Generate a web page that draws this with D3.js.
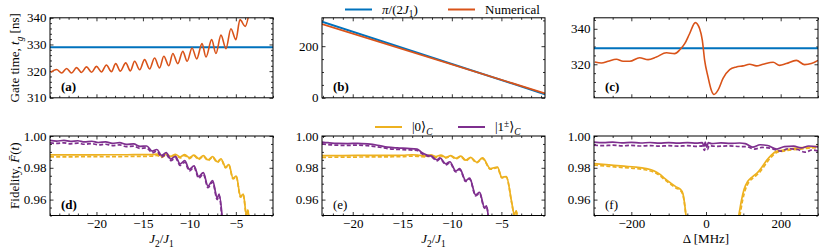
<!DOCTYPE html>
<html><head><meta charset="utf-8">
<script src="https://cdn.jsdelivr.net/npm/d3@7"></script>
<style>
body{margin:0;background:#fff}
svg{display:block}
</style>
</head><body><svg id="chart" width="830" height="249"></svg>
<script>
// ---------------- DATA ----------------
const piOver2J1 = 329;                       // analytic gate time (ns), panels (a),(c)
// (a) numerical gate time vs J2/J1
const numericalA = [[-24.93,319.5],[-24.29,320.6],[-23.75,319.3],[-23.21,321.0],[-22.68,319.3],[-22.14,321.3],[-21.61,319.5],[-21.07,321.6],[-20.53,319.6],[-20.0,321.8],[-19.46,319.7],[-18.93,322.3],[-18.39,319.8],[-17.93,322.8],[-17.43,320.0],[-16.85,323.1],[-16.35,320.1],[-15.89,323.7],[-15.35,320.5],[-14.82,324.3],[-14.28,320.8],[-13.75,324.9],[-13.21,321.2],[-12.75,325.6],[-12.21,322.0],[-11.78,326.6],[-11.25,322.8],[-10.71,327.4],[-10.24,323.7],[-9.71,328.7],[-9.21,324.6],[-8.64,330.3],[-8.21,325.3],[-7.60,331.8],[-7.14,326.6],[-6.60,333.5],[-6.06,328.4],[-5.53,335.9],[-4.99,331.8],[-4.56,339.3],[-3.99,336.8],[-3.56,342]];
// (b) gate time vs J2/J1
const analyticB = [[-23.1,295],[-0.6,14]];
const numericalB = [[-23.1,286],[-0.6,17]];
// (c) numerical gate time vs detuning
const numericalC = [[-298,321.3],[-280,320.7],[-262,321.7],[-240,322.8],[-222,321.7],[-204,321.7],[-178,323.7],[-155,322.6],[-133,324.1],[-106,326.5],[-84,326.0],[-70,328.2],[-57,331.6],[-44,337.2],[-28.6,343.5],[-17,340],[-9.8,333.5],[-3.6,322.2],[5.4,312.9],[14.3,305.4],[21.4,303],[32.2,305.4],[45.6,312],[63.4,317],[81.3,318.5],[99,319.1],[117,320],[135,319.1],[153,320],[180,321.1],[197,319.4],[215,320.4],[242,322.2],[264,319.8],[282,320.4],[300,322.2]];
// (d) fidelity vs J2/J1
const zeroSolidD = [[-25,0.9881],[-23,0.9881],[-21,0.9881],[-19,0.9882],[-17,0.9882],[-15,0.9883],[-14,0.9883],[-13.5,0.9886],[-13,0.9874],[-12.5,0.9886],[-12,0.9872],[-11.5,0.9885],[-11,0.9868],[-10.5,0.9883],[-10,0.9864],[-9.5,0.988],[-9,0.9858],[-8.5,0.9876],[-8,0.985],[-7.5,0.987],[-7,0.9838],[-6.6,0.9857],[-6.1,0.9805],[-5.75,0.982],[-5.3,0.9735],[-4.95,0.9748],[-4.5,0.962],[-4.2,0.9635],[-3.85,0.95],[-3.7,0.9535],[-3.55,0.946]];
const zeroDashD = [[-25,0.9869],[-23,0.9869],[-21,0.987],[-19,0.987],[-17,0.9871],[-15,0.9872],[-14,0.9873],[-13.5,0.9878],[-13,0.9866],[-12.5,0.9879],[-12,0.9865],[-11.5,0.9879],[-11,0.9862],[-10.5,0.9877],[-10,0.9858],[-9.5,0.9875],[-9,0.9853],[-8.5,0.9871],[-8,0.9845],[-7.5,0.9866],[-7,0.9834],[-6.6,0.9853],[-6.1,0.98],[-5.75,0.9816],[-5.3,0.973],[-4.95,0.9744],[-4.5,0.9615],[-4.2,0.963],[-3.85,0.9495],[-3.7,0.953],[-3.55,0.946]];
const oneSolidD = [[-25,0.9972],[-24.3,0.9968],[-23.5,0.9972],[-22.8,0.9966],[-22,0.997],[-21.3,0.9963],[-20.5,0.9967],[-19.8,0.9959],[-19,0.9963],[-18.3,0.9954],[-17.5,0.9958],[-16.8,0.9947],[-16,0.995],[-15.3,0.9935],[-14.6,0.9937],[-14,0.9905],[-13.5,0.9915],[-13,0.9878],[-12.5,0.9895],[-12,0.9855],[-11.5,0.9872],[-11,0.9825],[-10.5,0.9845],[-10,0.979],[-9.5,0.9812],[-9,0.9745],[-8.5,0.977],[-8,0.9685],[-7.5,0.972],[-7,0.961],[-6.8,0.9635],[-6.45,0.948]];
const oneDashD = [[-25,0.9957],[-24.3,0.9953],[-23.5,0.9957],[-22.8,0.9951],[-22,0.9955],[-21.3,0.9948],[-20.5,0.9952],[-19.8,0.9944],[-19,0.9948],[-18.3,0.994],[-17.5,0.9944],[-16.8,0.9933],[-16,0.9936],[-15.3,0.9922],[-14.6,0.9925],[-14,0.9895],[-13.5,0.9905],[-13,0.9868],[-12.5,0.9885],[-12,0.9845],[-11.5,0.9862],[-11,0.9815],[-10.5,0.9835],[-10,0.978],[-9.5,0.9802],[-9,0.9735],[-8.5,0.976],[-8,0.9675],[-7.5,0.971],[-7,0.96],[-6.8,0.9625],[-6.5,0.948]];
// (e) fidelity vs J2/J1
const zeroSolidE = [[-23.1,0.9876],[-21,0.9877],[-19,0.9878],[-17,0.9878],[-15,0.9879],[-14,0.9882],[-13.2,0.9878],[-12.6,0.9875],[-12.1,0.9882],[-11.6,0.9871],[-11.1,0.988],[-10.6,0.9866],[-10.1,0.9877],[-9.6,0.986],[-9.1,0.9874],[-8.6,0.9848],[-8.1,0.9866],[-7.5,0.9835],[-6.9,0.9862],[-6.1,0.9795],[-5.4,0.9805],[-4.95,0.974],[-4.5,0.9745],[-3.95,0.958],[-3.7,0.9505],[-3.5,0.953],[-3.35,0.946]];
const zeroDashE = [[-23.1,0.9866],[-21,0.9867],[-19,0.9868],[-17,0.9869],[-15,0.987],[-14,0.9874],[-13.2,0.9871],[-12.6,0.9869],[-12.1,0.9876],[-11.6,0.9866],[-11.1,0.9875],[-10.6,0.9862],[-10.1,0.9873],[-9.6,0.9856],[-9.1,0.987],[-8.6,0.9845],[-8.1,0.9862],[-7.5,0.9831],[-6.9,0.9858],[-6.1,0.9791],[-5.4,0.9801],[-4.95,0.9736],[-4.5,0.9741],[-3.95,0.9576],[-3.7,0.9502],[-3.5,0.9527],[-3.35,0.946]];
const oneSolidE = [[-23.1,0.9962],[-22.5,0.9958],[-21.5,0.9953],[-20.5,0.9952],[-19.5,0.9954],[-18.5,0.995],[-17.5,0.9942],[-16.5,0.993],[-15.5,0.9925],[-14.5,0.9922],[-13.5,0.9918],[-13,0.9895],[-12.5,0.988],[-12,0.9872],[-11.5,0.985],[-11.2,0.9862],[-10.6,0.9825],[-10.2,0.9838],[-9.6,0.978],[-9.2,0.9795],[-8.6,0.972],[-8.2,0.9735],[-7.6,0.963],[-7.2,0.9645],[-6.7,0.955],[-6.5,0.956],[-6.3,0.948]];
const oneDashE = [[-23.1,0.995],[-22.5,0.9946],[-21.5,0.9942],[-20.5,0.9941],[-19.5,0.9943],[-18.5,0.9939],[-17.5,0.9932],[-16.5,0.9921],[-15.5,0.9916],[-14.5,0.9913],[-13.5,0.9909],[-13,0.9888],[-12.5,0.9874],[-12,0.9866],[-11.5,0.9844],[-11.2,0.9856],[-10.6,0.9819],[-10.2,0.9832],[-9.6,0.9774],[-9.2,0.9789],[-8.6,0.9714],[-8.2,0.9729],[-7.6,0.9624],[-7.2,0.9639],[-6.7,0.9545],[-6.5,0.9555],[-6.3,0.948]];
// (f) fidelity vs detuning (MHz)
const zeroSolidFLeft = [[-300,0.9826],[-260,0.9818],[-220,0.981],[-190,0.9805],[-160,0.9795],[-140,0.9782],[-125,0.9762],[-110,0.9732],[-95,0.9705],[-80,0.968],[-70,0.9668],[-62,0.9638],[-56,0.955],[-52,0.946]];
const zeroSolidFRight = [[85,0.946],[90,0.953],[95,0.9595],[102,0.9665],[112,0.9715],[125,0.9745],[138,0.977],[150,0.9805],[162,0.9845],[175,0.988],[190,0.9905],[205,0.991],[225,0.9918],[250,0.9925],[275,0.993],[300,0.9935]];
const zeroDashFLeft = [[-300,0.9817],[-260,0.9809],[-220,0.9801],[-190,0.9796],[-160,0.9786],[-140,0.9773],[-125,0.9753],[-110,0.9724],[-95,0.9697],[-80,0.9672],[-70,0.966],[-62,0.963],[-56,0.9545],[-52,0.946]];
const zeroDashFRight = [[88,0.946],[93,0.953],[98,0.9595],[105,0.966],[115,0.971],[128,0.974],[141,0.9765],[153,0.98],[165,0.984],[178,0.9875],[193,0.99],[208,0.9905],[228,0.9912],[253,0.9918],[278,0.9924],[300,0.9928]];
const oneSolidF = [[-300,0.9962],[-275,0.9958],[-250,0.9961],[-225,0.9957],[-200,0.996],[-175,0.9956],[-150,0.9959],[-125,0.9955],[-100,0.9958],[-75,0.9955],[-50,0.9958],[-25,0.9955],[-10,0.9958],[-5,0.9935],[-2,0.9962],[2,0.993],[6,0.9958],[15,0.9952],[40,0.9957],[65,0.9953],[90,0.9956],[105,0.9952],[125,0.993],[145,0.9945],[165,0.994],[190,0.9918],[210,0.9933],[235,0.9936],[255,0.9925],[275,0.9937],[300,0.9932]];
const oneDashF = [[-300,0.9942],[-275,0.9939],[-250,0.9942],[-225,0.9938],[-200,0.9941],[-175,0.9937],[-150,0.994],[-125,0.9936],[-100,0.9939],[-75,0.9936],[-50,0.9939],[-25,0.9935],[-10,0.9938],[-4,0.991],[0,0.9945],[4,0.9915],[8,0.9938],[30,0.9935],[60,0.9938],[90,0.9934],[110,0.9932],[130,0.9918],[150,0.9928],[175,0.9922],[200,0.9905],[220,0.992],[245,0.9915],[265,0.9898],[285,0.9912],[300,0.9905]];

// ticks
const ticksJ = [-20,-15,-10,-5];
const ticksDelta = [-200,0,200];
const ticksGateA = [310,320,330,340];
const ticksGateB = [0,200];
const ticksGateC = [320,340];
const ticksFid = [0.96,0.98,1.00];

// ---------------- STYLE ----------------
const FONT = '"Liberation Serif", "DejaVu Serif", "Times New Roman", serif';
const C_BLUE = "#0072BD", C_ORANGE = "#D95319", C_YELLOW = "#EDB120", C_PURPLE = "#7E2F8E";
const FS = 13;
const cols = [[50,273],[322,545],[594,818]];
const rows = [[17.8,97.8],[136,215.5]];

const svg = d3.select("#chart").style("font-family", FONT);

function rich(text, parts){
  let cur = 0;
  parts.forEach(p=>{
    if(typeof p === "string") p = {t:p};
    const shift = p.sub ? 3.5 : (p.sup ? -4.5 : 0);
    const ts = text.append("tspan").text(p.t).attr("dy", shift-cur);
    cur = shift;
    if(p.it) ts.style("font-style","italic");
    if(p.sub||p.sup) ts.style("font-size", (FS*0.72)+"px");
  });
  return text;
}

function range(a,b,s){const r=[];for(let v=a;v<=b+1e-9;v+=s)r.push(+v.toFixed(6));return r;}

let clipId = 0;
function panel(ci, ri, xDom, yDom, xMaj, xMin, yMaj, yMin, showX, yFmt, label, bold){
  const [x0,x1] = cols[ci], [y0,y1] = rows[ri];
  const x = d3.scaleLinear().domain(xDom).range([x0,x1]);
  const y = d3.scaleLinear().domain(yDom).range([y1,y0]);
  const g = svg.append("g");
  const id = "clip"+(clipId++);
  svg.append("clipPath").attr("id",id).append("rect").attr("x",x0).attr("y",y0).attr("width",x1-x0).attr("height",y1-y0);
  const xMinV = xMin.filter(v=>v>=xDom[0]&&v<=xDom[1]&&!xMaj.includes(v));
  const yMinV = yMin.filter(v=>v>=yDom[0]&&v<=yDom[1]&&!yMaj.some(m=>Math.abs(m-v)<1e-9));
  const fmtJ = d3.format("d");
  const addAxis = (axis, tr)=>{
    const a = g.append("g").attr("transform",tr).call(axis);
    a.attr("font-family", null).attr("font-size", null);
    a.select(".domain").remove();
    a.selectAll("line").attr("stroke","#000").attr("stroke-width",0.8);
    a.selectAll("text").style("font-size",FS+"px").style("font-family",FONT);
    return a;
  };
  addAxis(d3.axisBottom(x).tickValues(xMaj).tickSize(-3.5).tickPadding(3.5).tickFormat(showX? fmtJ : ()=>""), `translate(0,${y1})`);
  addAxis(d3.axisBottom(x).tickValues(xMinV).tickSize(-2).tickFormat(()=>""), `translate(0,${y1})`);
  addAxis(d3.axisTop(x).tickValues(xMaj).tickSize(-3.5).tickFormat(()=>""), `translate(0,${y0})`);
  addAxis(d3.axisTop(x).tickValues(xMinV).tickSize(-2).tickFormat(()=>""), `translate(0,${y0})`);
  addAxis(d3.axisLeft(y).tickValues(yMaj).tickSize(-3.5).tickPadding(3.5).tickFormat(yFmt), `translate(${x0},0)`);
  addAxis(d3.axisLeft(y).tickValues(yMinV).tickSize(-2).tickFormat(()=>""), `translate(${x0},0)`);
  addAxis(d3.axisRight(y).tickValues(yMaj).tickSize(-3.5).tickFormat(()=>""), `translate(${x1},0)`);
  addAxis(d3.axisRight(y).tickValues(yMinV).tickSize(-2).tickFormat(()=>""), `translate(${x1},0)`);
  const plot = svg.append("g").attr("clip-path",`url(#${id})`);
  svg.append("rect").attr("x",x0).attr("y",y0).attr("width",x1-x0).attr("height",y1-y0)
    .attr("fill","none").attr("stroke","#000").attr("stroke-width",1);
  svg.append("text").attr("x",x0+11).attr("y",y1-7).style("font-size",FS+"px")
    .style("font-weight",bold?"bold":"normal").text(label);
  return {x,y,plot};
}

function draw(p, data, color, opts={}){
  const line = d3.line().x(d=>p.x(d[0])).y(d=>p.y(d[1])).curve(opts.linear? d3.curveLinear : d3.curveMonotoneX);
  p.plot.append("path").datum(data).attr("d",line).attr("fill","none")
    .attr("stroke",color).attr("stroke-width",opts.w||1.7)
    .attr("stroke-dasharray",opts.dash? "4,2.2":null)
    .attr("stroke-linejoin","round");
}

const jMinor = range(-25,0,1);
const dMinor = range(-300,300,50);
const fmtInt = d3.format("d"), fmtFid = d3.format(".2f");

// (a)
const pa = panel(0,0,[-25,-1],[310,340],ticksJ,jMinor,ticksGateA,range(310,340,2),false,fmtInt,"(a)",true);
draw(pa, pa.x.domain().map(v=>[v,piOver2J1]), C_BLUE, {linear:true,w:2});
draw(pa, numericalA, C_ORANGE, {w:1.6});
// (b)
const pb = panel(1,0,[-23.1,-0.6],[0,310],ticksJ,range(-23,0,1),ticksGateB,range(0,300,50),false,fmtInt,"(b)",true);
draw(pb, analyticB, C_BLUE, {linear:true,w:2});
draw(pb, numericalB, C_ORANGE, {linear:true,w:1.8});
// (c)
const pc = panel(2,0,[-300,300],[301.1,346.2],ticksDelta,dMinor,ticksGateC,range(305,345,5),false,fmtInt,"(c)",true);
draw(pc, pc.x.domain().map(v=>[v,piOver2J1]), C_BLUE, {linear:true,w:2});
draw(pc, numericalC, C_ORANGE, {w:1.6});
// (d)
const pd = panel(0,1,[-25,-1],[0.95,1.0],ticksJ,jMinor,ticksFid,range(0.95,1.0,0.005),true,fmtFid,"(d)",true);
draw(pd, zeroSolidD, C_YELLOW); draw(pd, zeroDashD, C_YELLOW, {dash:true});
draw(pd, oneSolidD, C_PURPLE); draw(pd, oneDashD, C_PURPLE, {dash:true});
// (e)
const pe = panel(1,1,[-23.1,-0.6],[0.95,1.0],ticksJ,range(-23,0,1),ticksFid,range(0.95,1.0,0.005),true,fmtFid,"(e)",false);
draw(pe, zeroSolidE, C_YELLOW); draw(pe, zeroDashE, C_YELLOW, {dash:true});
draw(pe, oneSolidE, C_PURPLE); draw(pe, oneDashE, C_PURPLE, {dash:true});
// (f)
const pf = panel(2,1,[-300,300],[0.95,1.0],ticksDelta,dMinor,ticksFid,range(0.95,1.0,0.005),true,fmtFid,"(f)",false);
draw(pf, zeroSolidFLeft, C_YELLOW); draw(pf, zeroSolidFRight, C_YELLOW);
draw(pf, zeroDashFLeft, C_YELLOW, {dash:true}); draw(pf, zeroDashFRight, C_YELLOW, {dash:true});
draw(pf, oneSolidF, C_PURPLE); draw(pf, oneDashF, C_PURPLE, {dash:true});

// axis titles
rich(svg.append("text").attr("transform","translate(19,57.8) rotate(-90)").attr("text-anchor","middle").style("font-size",FS+"px"),
  ["Gate time, ",{t:"t",it:1},{t:"g",it:1,sub:1}," [ns]"]);
rich(svg.append("text").attr("transform","translate(19,175.7) rotate(-90)").attr("text-anchor","middle").style("font-size",FS+"px"),
  ["Fidelity, ",{t:"F\u0304",it:1},"(",{t:"t",it:1},")"]);
[0,1].forEach(ci=>{
  rich(svg.append("text").attr("x",(cols[ci][0]+cols[ci][1])/2).attr("y",243).attr("text-anchor","middle").style("font-size",FS+"px"),
    [{t:"J",it:1},{t:"2",sub:1},"/",{t:"J",it:1},{t:"1",sub:1}]);
});
svg.append("text").attr("x",(cols[2][0]+cols[2][1])/2).attr("y",243).attr("text-anchor","middle").style("font-size",FS+"px").text("Δ [MHz]");

// legends
function legendItem(x, y, color, parts){
  svg.append("line").attr("x1",x).attr("x2",x+27).attr("y1",y).attr("y2",y).attr("stroke",color).attr("stroke-width",2);
  rich(svg.append("text").attr("x",x+37).attr("y",y+4).style("font-size",FS+"px"), parts);
}
legendItem(345, 9.5, C_BLUE, [{t:"π",it:1},"/(2",{t:"J",it:1},{t:"1",sub:1},")"]);
legendItem(448, 9.5, C_ORANGE, ["Numerical"]);
legendItem(375, 127, C_YELLOW, ["|0⟩",{t:"C",it:1,sub:1}]);
legendItem(458, 127, C_PURPLE, ["|1",{t:"±",sup:1},"⟩",{t:"C",it:1,sub:1}]);

svg.selectAll("text").style("font-family", FONT).style("fill","#000");
</script>
</body></html>
